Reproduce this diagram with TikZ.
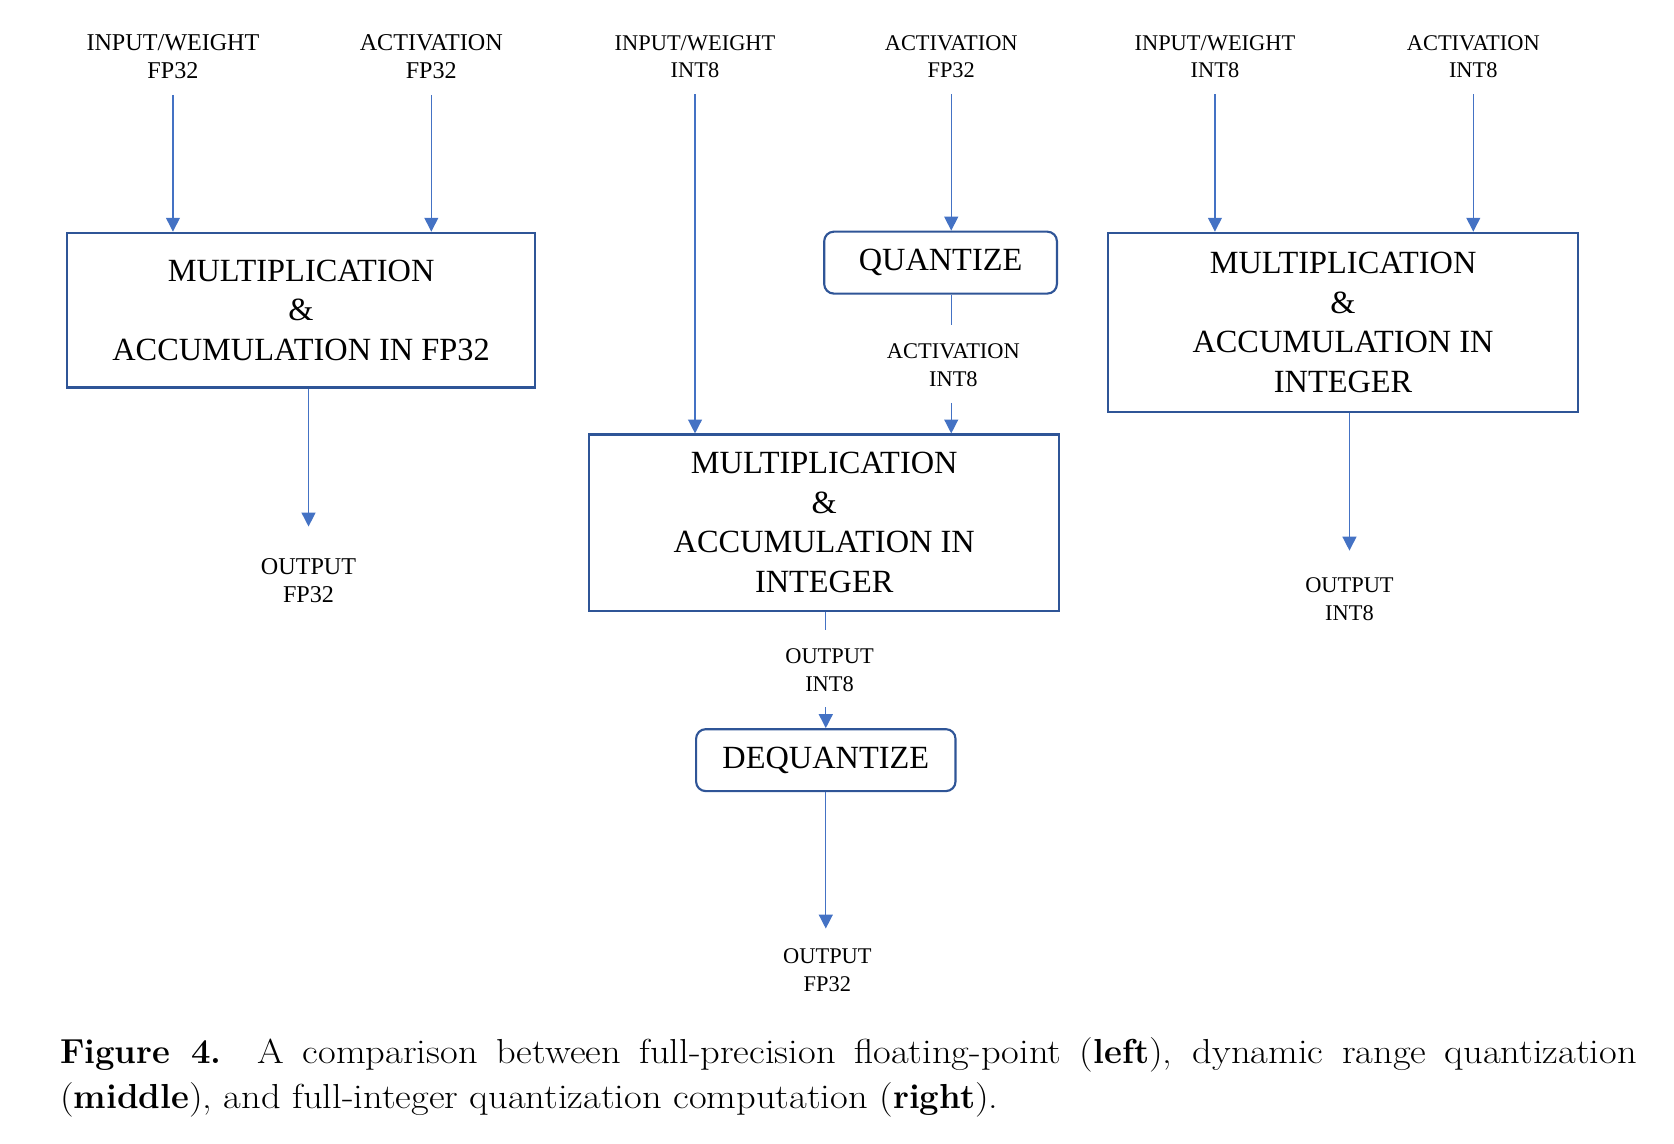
\documentclass[tikz,border=0pt]{standalone}
\usepackage{fontspec}
\newfontfamily\tnr{Liberation Serif}
\newfontfamily\capf[FakeStretch=1.11,BoldFeatures={FakeStretch=1.0}]{Latin Modern Roman}
\usetikzlibrary{arrows.meta}
\definecolor{boxblue}{HTML}{2F5597}
\definecolor{arrblue}{HTML}{4472C4}
\begin{document}
\begin{tikzpicture}[x=1pt,y=-1pt,
  lbl/.style={inner sep=0pt, align=center, font={\tnr\fontsize{21}{26}\selectfont}},
  lblL/.style={lbl, font={\tnr\fontsize{22.6}{26}\selectfont}},
  box/.style={draw=boxblue, line width=2pt, inner sep=0pt, align=center, font={\tnr\fontsize{30.3}{37}\selectfont}},
  rbox/.style={box, rounded corners=9pt},
  arr/.style={draw=arrblue, line width=1.3pt, -{Triangle[length=13pt,width=13pt]}},
  ln/.style={draw=arrblue, line width=1.3pt},
  capfont/.style={inner sep=0pt, anchor=base west, font={\capf\fontsize{32.5}{43}\selectfont}}]
\useasboundingbox (0,0) rectangle (1568,1071);

% ---------- left ----------
\node[lblL] (iw1) at (162,53) {INPUT/WEIGHT\\FP32};
\node[lblL] (ac1) at (404,53) {ACTIVATION\\FP32};
\node[box, minimum width=438pt, minimum height=145pt] (box1) at (282,290.5) {MULTIPLICATION\\\&\\ACCUMULATION IN FP32};
\node[lblL] (out1) at (289,544) {OUTPUT\\FP32};
\draw[arr] ([yshift=-15pt]iw1.south) -- (iw1.south |- box1.north);
\draw[arr] ([yshift=-15pt]ac1.south) -- (ac1.south |- box1.north);
\draw[arr] (box1.south -| out1.north) -- ([yshift=30pt]out1.north);

% ---------- middle ----------
\node[lbl] (iw2) at (651,53) {INPUT/WEIGHT\\INT8};
\node[lbl] (ac2) at (891,53) {ACTIVATION\\FP32};
\node[rbox, minimum width=218pt, minimum height=58pt] (quant) at (881,246) {QUANTIZE};
\node[lbl] (ac2b) at (893,342) {ACTIVATION\\INT8};
\node[box, minimum width=440pt, minimum height=165pt] (box2) at (772,489.5) {MULTIPLICATION\\\&\\ACCUMULATION IN\\INTEGER};
\node[lbl] (out2a) at (777,628) {OUTPUT\\INT8};
\node[rbox, minimum width=243pt, minimum height=58pt] (dequant) at (773.5,712) {DEQUANTIZE};
\node[lbl] (out2b) at (775,908.5) {OUTPUT\\FP32};
\draw[arr] ([yshift=-15pt]iw2.south) -- (iw2.south |- box2.north);
\draw[arr] ([yshift=-15pt]ac2.south) -- (ac2.south |- quant.north);
\draw[ln] (quant.south -| ac2.south) -- ([yshift=17pt]ac2b.north -| ac2.south);
\draw[arr] ([yshift=-15pt]ac2b.south -| ac2.south) -- (ac2.south |- box2.north);
\draw[ln] (box2.south -| dequant.north) -- ([yshift=18pt]out2a.north -| dequant.north);
\draw[arr] ([yshift=-14pt]out2a.south -| dequant.north) -- (dequant.north);
\draw[arr] (dequant.south) -- ([yshift=18.5pt]out2b.north -| dequant.south);

% ---------- right ----------
\node[lbl] (iw3) at (1138,53) {INPUT/WEIGHT\\INT8};
\node[lbl] (ac3) at (1380,53) {ACTIVATION\\INT8};
\node[box, minimum width=440pt, minimum height=168pt] (box3) at (1258,302) {MULTIPLICATION\\\&\\ACCUMULATION IN\\INTEGER};
\node[lbl] (out3) at (1264,561.5) {OUTPUT\\INT8};
\draw[arr] ([yshift=-15pt]iw3.south) -- (iw3.south |- box3.north);
\draw[arr] ([yshift=-15pt]ac3.south) -- (ac3.south |- box3.north);
\draw[arr] (box3.south -| out3.north) -- ([yshift=25.5pt]out3.north);

% ---------- caption ----------
\node[capfont] (cap1) at (56,996) {\hbox to 1477pt{\textbf{Figure 4.} A comparison between full-precision floating-point (\textbf{left}), dynamic range quantization}};
\node[capfont] (cap2) at (56,1038) {(\textbf{middle}), and full-integer quantization computation (\textbf{right}).};
\end{tikzpicture}
\end{document}
